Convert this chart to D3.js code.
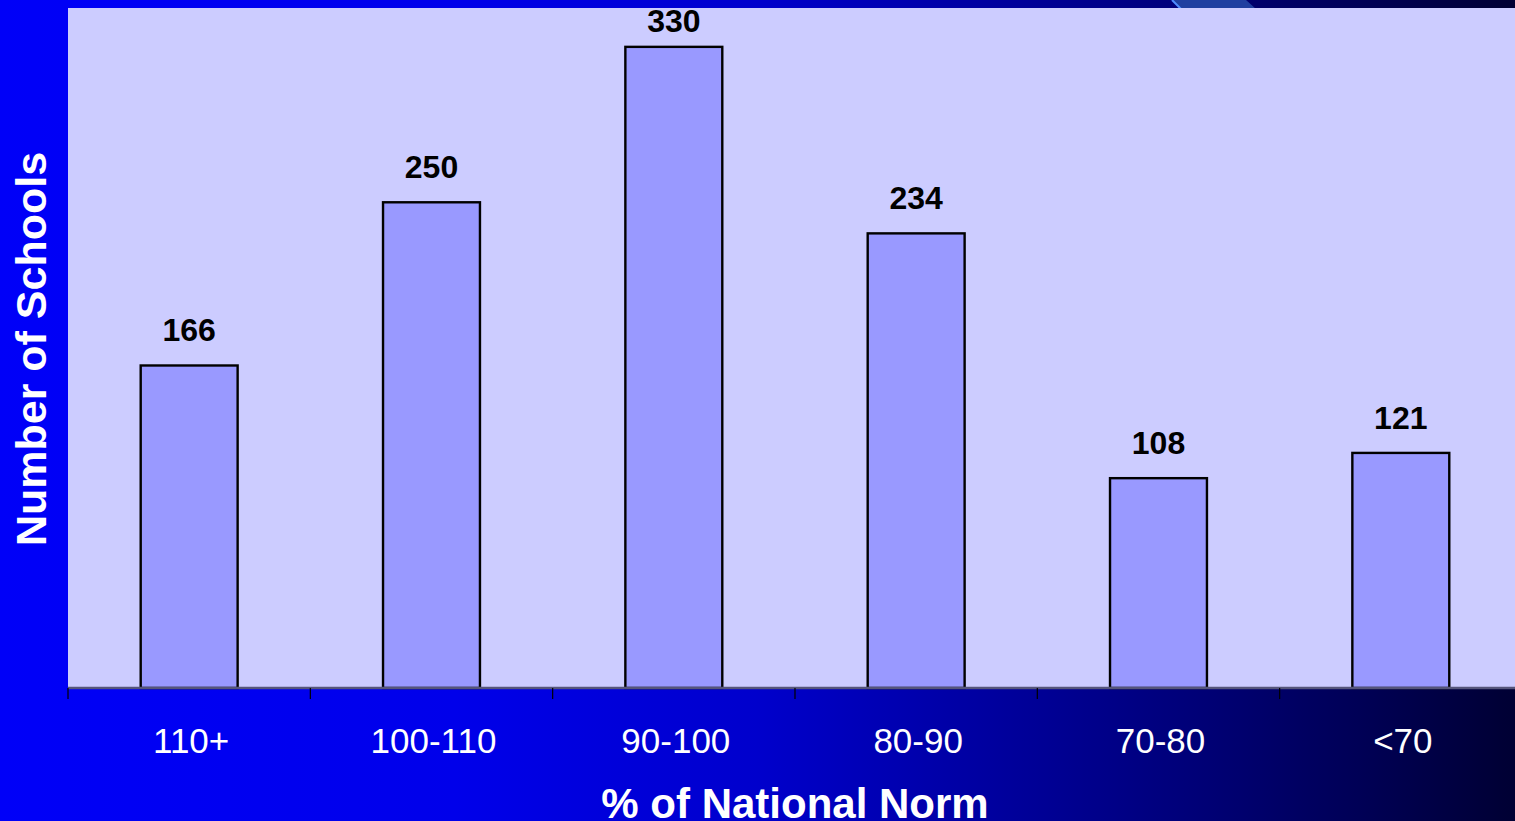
<!DOCTYPE html>
<html>
<head>
<meta charset="utf-8">
<script src="https://cdn.jsdelivr.net/npm/d3@7"></script>
<style>
  html, body { margin: 0; padding: 0; overflow: hidden; background: #000; }
  svg { display: block; }
</style>
</head>
<body>
<svg id="chart" width="1515" height="821"></svg>
<script>
// Score bands (percent of national norm) and the number of schools in each
const categories = ["110+", "100-110", "90-100", "80-90", "70-80", "<70"];
const schools = [166, 250, 330, 234, 108, 121];
const yDomain = [0, 350];

const W = 1515, H = 821;
const plot = { left: 68, top: 8, right: 68 + 6 * 242.33, bottom: 688 };
const font = "'Liberation Sans', Arial, Helvetica, sans-serif";

const svg = d3.select("#chart");
const defs = svg.append("defs");

// Slide background: bright blue on the left fading to deep navy on the right
const bg = defs.append("linearGradient").attr("id", "bgGrad")
  .attr("x1", "0%").attr("y1", "0%").attr("x2", "100%").attr("y2", "0%");
[[0, "#0000f8"], [0.3, "#0000ea"], [0.5, "#0000cc"], [0.65, "#0000a0"],
 [0.78, "#00007a"], [0.9, "#000055"], [1, "#000033"]]
  .forEach(([o, c]) => bg.append("stop").attr("offset", o).attr("stop-color", c));

svg.append("rect").attr("width", W).attr("height", H).attr("fill", "url(#bgGrad)");

// Decorative diagonal stripe along the top edge
svg.append("polygon")
  .attr("points", "1172,0 1246,0 1256,9 1181,9")
  .attr("fill", "#1f3fa0");
svg.append("line")
  .attr("x1", 1172).attr("y1", 0).attr("x2", 1181).attr("y2", 9)
  .attr("stroke", "#4f8cff").attr("stroke-width", 2);

// Plot area
svg.append("rect")
  .attr("x", plot.left).attr("y", plot.top)
  .attr("width", W - plot.left).attr("height", plot.bottom - plot.top)
  .attr("fill", "#ccccff");

const x = d3.scaleBand()
  .domain(categories)
  .range([plot.left, plot.right])
  .paddingInner(0.6)
  .paddingOuter(0.3);

const y = d3.scaleLinear().domain(yDomain).range([plot.bottom, plot.top]);

// Bars
svg.append("g").selectAll("rect")
  .data(categories)
  .join("rect")
  .attr("x", d => x(d))
  .attr("y", (d, i) => y(schools[i]))
  .attr("width", x.bandwidth())
  .attr("height", (d, i) => y(0) - y(schools[i]))
  .attr("fill", "#9999ff")
  .attr("stroke", "#000")
  .attr("stroke-width", 2.4);

// Value labels above the bars, kept inside the plot frame
svg.append("g").selectAll("text")
  .data(categories)
  .join("text")
  .attr("x", d => x(d) + x.bandwidth() / 2)
  .attr("y", (d, i) => Math.max(y(schools[i]) - 24, plot.top + 24))
  .attr("text-anchor", "middle")
  .attr("font-family", font)
  .attr("font-weight", "bold")
  .attr("font-size", 32)
  .attr("fill", "#000")
  .text((d, i) => schools[i]);

// Category axis: a line with ticks at the band boundaries
const step = x.step();
const boundaries = d3.range(categories.length + 1).map(i => plot.left + i * step);

svg.append("line")
  .attr("x1", plot.left).attr("x2", W)
  .attr("y1", plot.bottom).attr("y2", plot.bottom)
  .attr("stroke", "#55557a").attr("stroke-width", 2.5);

svg.append("g").selectAll("line")
  .data(boundaries)
  .join("line")
  .attr("x1", d => d).attr("x2", d => d)
  .attr("y1", plot.bottom).attr("y2", plot.bottom + 11)
  .attr("stroke", "#000").attr("stroke-width", 1.2);

svg.append("g").selectAll("text")
  .data(categories)
  .join("text")
  .attr("x", d => x(d) + x.bandwidth() / 2 + 2)
  .attr("y", 753)
  .attr("text-anchor", "middle")
  .attr("font-family", font)
  .attr("font-size", 35)
  .attr("fill", "#fff")
  .text(d => d);

// Axis titles
svg.append("text")
  .attr("x", 795).attr("y", 818)
  .attr("text-anchor", "middle")
  .attr("font-family", font)
  .attr("font-weight", "bold")
  .attr("font-size", 42)
  .attr("fill", "#fff")
  .text("% of National Norm");

svg.append("text")
  .attr("transform", "translate(46,349) rotate(-90)")
  .attr("text-anchor", "middle")
  .attr("font-family", font)
  .attr("font-weight", "bold")
  .attr("font-size", 43)
  .attr("fill", "#fff")
  .text("Number of Schools");
</script>
</body>
</html>
